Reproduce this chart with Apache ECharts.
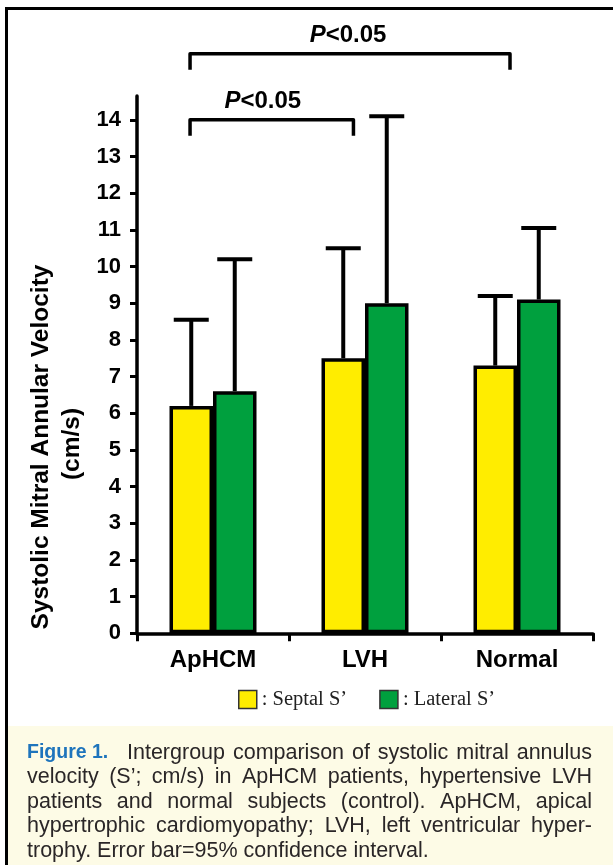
<!DOCTYPE html>
<html><head><meta charset="utf-8">
<script src="https://cdn.jsdelivr.net/npm/echarts@6/dist/echarts.min.js"></script>
<style>html,body{margin:0;padding:0;background:#fff}#c{width:613px;height:865px}</style>
</head><body><div id="c"></div>
<script>
// ---------------- data ----------------
const categories = ['ApHCM', 'LVH', 'Normal'];
const seriesNames = ['Septal S\u2019', 'Lateral S\u2019'];
const septalMean = [6.2, 7.5, 7.3];
const septalUpper = [8.55, 10.5, 9.2];
const lateralMean = [6.6, 9.0, 9.1];
const lateralUpper = [10.2, 14.1, 11.05];
const yTicks = [0, 1, 2, 3, 4, 5, 6, 7, 8, 9, 10, 11, 12, 13, 14];
const bracketFrom = [0, 0];
const bracketTo = [1, 2];
const bracketLevel = [14.0, 15.8];
const bracketText = ['P<0.05', 'P<0.05'];
const yTitle = ['Systolic Mitral Annular Velocity', '(cm/s)'];
const captionLead = 'Figure 1.';
const captionLines = [
  'Intergroup comparison of systolic mitral annulus',
  'velocity (S\u2019; cm/s) in ApHCM patients, hypertensive LVH',
  'patients and normal subjects (control). ApHCM, apical',
  'hypertrophic cardiomyopathy; LVH, left ventricular hyper-',
  'trophy. Error bar=95% confidence interval.'
];

// ---------------- style ----------------
const FONT = '"Liberation Sans", Arial, Helvetica, sans-serif';
const SERIF = '"Liberation Serif", "Times New Roman", serif';
const BAR_W = 43.5, CAP_W = 35, ERR_LW = 4;
const bracketShift = [[-0.151, -0.076], [-0.151, -0.046]];
const bracketTextShift = [-9, -2];
const YELLOW = '#FFED00', GREEN = '#00A03E';

const mctx = document.createElement('canvas').getContext('2d');
function tw(text, font) { mctx.font = font; return mctx.measureText(text).width; }
function hasFont(fam) {
  const a = tw('Figure 1. abcMWil', 'bold 20px "' + fam + '", monospace');
  const b = tw('Figure 1. abcMWil', 'bold 20px monospace');
  return Math.abs(a - b) > 0.5;
}
const leadFont = hasFont('Liberation Sans Narrow')
  ? 'bold 22px "Liberation Sans Narrow"'
  : 'bold 19.5px ' + FONT;
const capFont = '21.5px ' + FONT;

const chart = echarts.init(document.getElementById('c'), null, { renderer: 'canvas' });

function errRender(sign) {
  return function (params, api) {
    const i = api.value(0);
    const base = api.coord([i, api.value(1)]);
    const top = api.coord([i, api.value(2)]);
    const x = base[0] + sign * BAR_W / 2;
    return {
      type: 'group',
      children: [
        { type: 'line', shape: { x1: x, y1: base[1], x2: x, y2: top[1] }, style: { stroke: '#000', lineWidth: ERR_LW } },
        { type: 'line', shape: { x1: x - CAP_W / 2, y1: top[1], x2: x + CAP_W / 2, y2: top[1] }, style: { stroke: '#000', lineWidth: ERR_LW } }
      ]
    };
  };
}

function bracketRender(params, api) {
  const idx = params.dataIndex;
  const band = api.size([1, 0])[0];
  const p1 = api.coord([api.value(0), api.value(2)]);
  const p2 = api.coord([api.value(1), api.value(2)]);
  const xl = p1[0] + bracketShift[idx][0] * band;
  const xr = p2[0] + bracketShift[idx][1] * band;
  const y = p1[1];
  const drop = 16;
  const txt = bracketText[idx];
  return {
    type: 'group',
    children: [
      { type: 'polyline', shape: { points: [[xl, y + drop], [xl, y], [xr, y], [xr, y + drop]] },
        style: { stroke: '#000', lineWidth: 3.5, fill: null, lineJoin: 'round' } },
      { type: 'text', x: (xl + xr) / 2 + bracketTextShift[idx], y: y - 18,
        style: {
          text: '{i|' + txt.charAt(0) + '}{n|' + txt.slice(1) + '}',
          align: 'center', verticalAlign: 'middle', textAlign: 'center', textVerticalAlign: 'middle',
          rich: {
            i: { fontStyle: 'italic', fontWeight: 'bold', fontSize: 24, fontFamily: FONT, fill: '#000' },
            n: { fontWeight: 'bold', fontSize: 24, fontFamily: FONT, fill: '#000' }
          }
        } }
    ]
  };
}

// caption graphic (justified lines)
const graphics = [];
graphics.push({ type: 'rect', z: 0, silent: true, shape: { x: 8, y: 726, width: 605, height: 139 }, style: { fill: '#FDFBE6' } });
graphics.push({ type: 'polyline', z: 1, silent: true, shape: { points: [[6.5, 865], [6.5, 8.5], [613, 8.5]] }, style: { stroke: '#000', lineWidth: 3, fill: null } });
graphics.push({ type: 'text', z: 5, silent: true, x: 41, y: 447, rotation: Math.PI / 2,
  style: { text: yTitle[0], font: 'bold 24.5px ' + FONT, fill: '#000', align: 'center', verticalAlign: 'middle', textAlign: 'center', textVerticalAlign: 'middle' } });
graphics.push({ type: 'text', z: 5, silent: true, x: 72, y: 444, rotation: Math.PI / 2,
  style: { text: yTitle[1], font: 'bold 24.5px ' + FONT, fill: '#000', align: 'center', verticalAlign: 'middle', textAlign: 'center', textVerticalAlign: 'middle' } });

const CAP_X0 = 27, CAP_X1 = 592, LINE_Y0 = 753, LINE_H = 24.5, FIRST_X = 127;
function addWord(text, x, y, font, color) {
  graphics.push({ type: 'text', z: 5, silent: true, x: x, y: y,
    style: { text: text, font: font, fill: color, align: 'left', verticalAlign: 'middle', textAlign: 'left', textVerticalAlign: 'middle' } });
}
captionLines.forEach(function (line, li) {
  const y = LINE_Y0 + li * LINE_H;
  let start = CAP_X0;
  if (li === 0) {
    addWord(captionLead, CAP_X0, y, leadFont, '#1E74BC');
    start = FIRST_X;
  }
  const words = line.split(' ');
  const widths = words.map(function (w) { return tw(w, capFont); });
  const total = widths.reduce(function (a, b) { return a + b; }, 0);
  const last = li === captionLines.length - 1;
  const gap = last ? tw(' ', capFont) : (CAP_X1 - start - total) / (words.length - 1);
  let x = start;
  words.forEach(function (w, wi) {
    addWord(w, x, y, capFont, '#2A2627');
    x += widths[wi] + gap;
  });
});

const option = {
  animation: false,
  backgroundColor: '#fff',
  grid: { left: 137, right: 20, top: 96, bottom: 231.7, containLabel: false, outerBoundsMode: 'none' },
  legend: {
    data: seriesNames,
    left: 238, top: 689, padding: 0,
    itemWidth: 18, itemHeight: 18, itemGap: 32, icon: 'rect',
    itemStyle: { borderWidth: 1.5, borderColor: '#333' },
    formatter: function (n) { return ': ' + n; },
    textStyle: { fontFamily: SERIF, fontSize: 20.5, color: '#222', lineHeight: 18 },
    selectedMode: false
  },
  xAxis: {
    type: 'category', data: categories,
    axisLine: { show: true, lineStyle: { color: '#000', width: 3.5 } },
    axisTick: { show: true, length: 8, lineStyle: { color: '#000', width: 3 } },
    axisLabel: { color: '#000', fontSize: 24, fontWeight: 'bold', fontFamily: FONT, margin: 15 },
    splitLine: { show: false }
  },
  yAxis: {
    type: 'value', min: 0, max: 14.65, interval: 1,
    splitLine: { show: false },
    axisLine: { show: true, lineStyle: { color: '#000', width: 3.5 } },
    axisTick: { show: true, length: 7, customValues: yTicks, lineStyle: { color: '#000', width: 3 } },
    axisLabel: { customValues: yTicks, color: '#000', fontSize: 22, fontWeight: 'bold', fontFamily: FONT, margin: 16 }
  },
  series: [
    { name: seriesNames[0], type: 'bar', data: septalMean, barWidth: BAR_W, barGap: '0%', z: 2,
      itemStyle: { color: YELLOW, borderColor: '#000', borderWidth: 3.5 } },
    { name: seriesNames[1], type: 'bar', data: lateralMean, barWidth: BAR_W, barGap: '0%', z: 2,
      itemStyle: { color: GREEN, borderColor: '#000', borderWidth: 3.5 } },
    { name: 'errSeptal', type: 'custom', renderItem: errRender(-1), silent: true, z: 3, clip: false,
      data: categories.map(function (c, i) { return [i, septalMean[i], septalUpper[i]]; }),
      encode: { x: 0, y: [1, 2] } },
    { name: 'errLateral', type: 'custom', renderItem: errRender(1), silent: true, z: 3, clip: false,
      data: categories.map(function (c, i) { return [i, lateralMean[i], lateralUpper[i]]; }),
      encode: { x: 0, y: [1, 2] } },
    { name: 'brackets', type: 'custom', renderItem: bracketRender, silent: true, z: 4, clip: false,
      data: bracketFrom.map(function (f, i) { return [f, bracketTo[i], bracketLevel[i]]; }),
      encode: { x: [0, 1], y: 2 } }
  ],
  graphic: { elements: graphics }
};
chart.setOption(option);
</script>
</body></html>
